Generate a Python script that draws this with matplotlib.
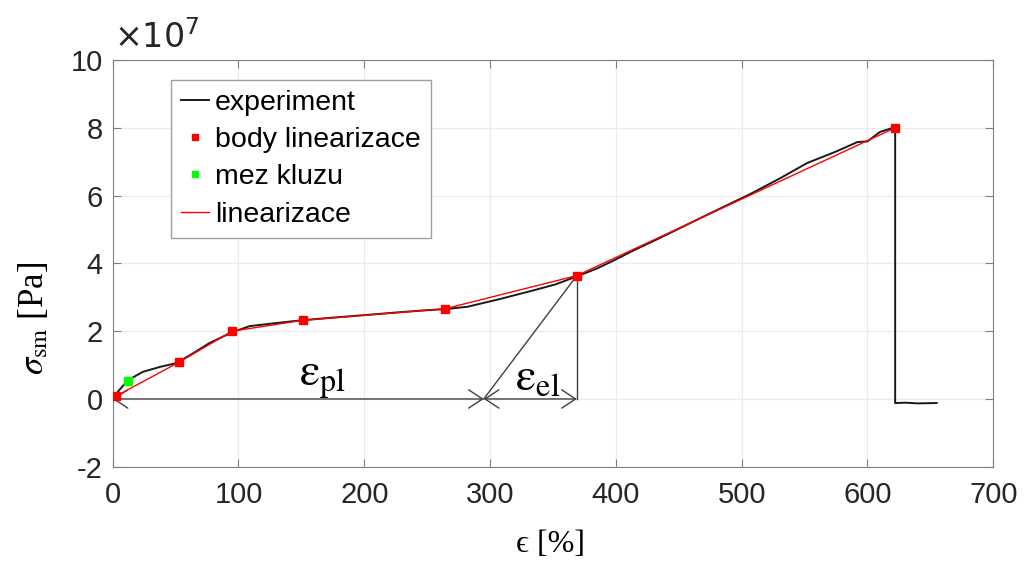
import matplotlib.pyplot as plt
from matplotlib.ticker import MultipleLocator, FuncFormatter

plt.rcParams['font.family'] = ['Liberation Sans', 'DejaVu Sans']
plt.rcParams['mathtext.fontset'] = 'stix'
plt.rcParams['axes.unicode_minus'] = False

# experiment curve (strain %, stress Pa)
exp_x = [0, 5, 12, 24, 38, 51, 64, 77, 90, 96, 109, 130, 150, 175, 202, 225, 250, 264,
         282, 308, 334, 352, 370, 385, 398, 415, 435, 469, 507, 530, 552, 575, 592,
         600, 610, 622, 622, 630, 640, 655]
exp_y = [0.03, 0.25, 0.55, 0.80, 0.95, 1.06, 1.35, 1.65, 1.88, 1.98, 2.15, 2.24, 2.32,
         2.40, 2.48, 2.55, 2.62, 2.65, 2.72, 2.95, 3.20, 3.38, 3.63, 3.85, 4.08, 4.40,
         4.75, 5.37, 6.05, 6.50, 6.96, 7.30, 7.58, 7.60, 7.88, 8.02, -0.12, -0.11,
         -0.13, -0.12]
exp_y = [v * 1e7 for v in exp_y]

# linearization points
lin_x = [3, 53, 95, 151, 264, 369, 622]
lin_y = [0.09e7, 1.09e7, 2.0e7, 2.32e7, 2.66e7, 3.64e7, 8.0e7]

# yield point
yield_x = [12]
yield_y = [0.52e7]

# strain split for annotation
eps_split = 295
y_scale = 1e7

fig = plt.figure(figsize=(10.24, 5.61), dpi=100)
ax = fig.add_axes([0.110, 0.168, 0.860, 0.725])

ax.plot(exp_x, exp_y, color='#1a1a1a', lw=1.4, label='experiment', zorder=3)
ax.plot(lin_x, lin_y, 's', color='#ff0000', ms=6, label='body linearizace', zorder=5)
ax.plot(yield_x, yield_y, 's', color='#00ff00', ms=6, label='mez kluzu', zorder=5)
ax.plot(lin_x, lin_y, '-', color='#ff0000', lw=1.0, label='linearizace', zorder=4)

# annotations
arrow = dict(arrowstyle='<->,head_length=0.5,head_width=0.33', color='#404040',
             lw=1.0, shrinkA=0, shrinkB=0, mutation_scale=20)
ax.annotate('', xy=(eps_split, 0), xytext=(0, 0), arrowprops=arrow, zorder=2)
ax.annotate('', xy=(lin_x[5], 0), xytext=(eps_split, 0), arrowprops=arrow, zorder=2)
ax.plot([eps_split, lin_x[5]], [0, lin_y[5]], color='#404040', lw=1.0, zorder=2)
ax.plot([lin_x[5], lin_x[5]], [0, lin_y[5]], color='#404040', lw=1.0, zorder=2)

ax.text(167, 0.62e7, r'$\mathrm{\varepsilon}_{\mathrm{pl}}$', fontsize=33,
        ha='center', va='center')
ax.text(338, 0.62e7, r'$\mathrm{\varepsilon}_{\mathrm{el}}$', fontsize=33,
        ha='center', va='center')

ax.set_xlim(0, 700)
ax.set_ylim(-2e7, 10e7)
ax.xaxis.set_major_locator(MultipleLocator(100))
ax.yaxis.set_major_locator(MultipleLocator(2e7))
ax.yaxis.set_major_formatter(FuncFormatter(lambda v, p: f'{v / y_scale:g}'))
ax.text(0.002, 1.012, r'$\times 10^{7}$', transform=ax.transAxes, fontsize=24,
        color='#262626', ha='left', va='bottom', math_fontfamily='dejavusans')

ax.grid(True, color='#ebebeb', lw=0.9)
ax.set_axisbelow(True)
ax.tick_params(direction='in', length=6, top=True, right=True, labelsize=21,
               colors='#808080', labelcolor='#262626')
ax.tick_params(axis='x', pad=10)
ax.tick_params(axis='y', pad=7)
for s in ax.spines.values():
    s.set_color('#808080')

ax.set_xlabel('\u03f5 [%]', fontsize=23, family=['Liberation Serif', 'DejaVu Serif'])
ax.set_ylabel(r'$\sigma_{\mathrm{sm}}$ [Pa]', fontsize=25, family='Liberation Serif')
ax.xaxis.set_label_coords(0.497, -0.155)
ax.yaxis.set_label_coords(-0.07, 0.366)

leg = ax.legend(loc='upper left', bbox_to_anchor=(0.066, 0.952), fontsize=20.5,
                fancybox=False, framealpha=1, edgecolor='#a0a0a0',
                handlelength=1.0, handletextpad=0.2, labelspacing=0.4,
                borderpad=0.35, borderaxespad=0, markerscale=0.8)
leg.get_frame().set_linewidth(1.0)

fig.savefig('out.png', dpi=100)
